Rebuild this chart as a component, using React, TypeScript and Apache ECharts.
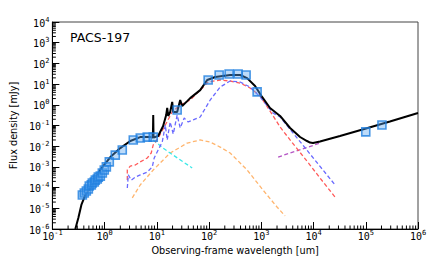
import React, { useEffect, useRef } from "react";
import * as echarts from "echarts";

// Observing-frame wavelength [um] vs flux density [mJy]
const totalSed: [number, number][] = [
  [0.275, 1e-6], [0.314, 3.4e-6], [0.359, 1.45e-5], [0.428, 4.4e-5], [0.582, 1.35e-4],
  [0.828, 7.1e-4], [1.29, 3.0e-3], [2.0, 8.1e-3], [3.1, 0.0178], [4.8, 0.0275],
  [7.5, 0.0275], [8.4, 0.026], [8.53, 0.32], [8.65, 0.026], [10.6, 0.031],
  [13.2, 0.095], [15.1, 0.32], [15.8, 0.71], [16.5, 0.29], [18.0, 0.45],
  [19.7, 1.38], [20.6, 0.45], [24.5, 0.45], [28, 1.7], [30.6, 0.87],
  [38.1, 1.5], [43.5, 2.1], [67.6, 5.1], [92, 15.8], [131, 21.9],
  [253, 27.5], [394, 27.5], [535, 19.5], [760, 8.1], [1035, 2.4],
  [1470, 0.70], [2290, 0.29], [3560, 0.0757], [5520, 0.0278], [7500, 0.0178],
  [8570, 0.015], [9770, 0.0143], [13300, 0.017], [32100, 0.031], [1.01e5, 0.0716],
  [2.9e5, 0.156], [1e6, 0.40],
];

const dustRed: [number, number][] = [
  [2.72, 2.3e-4], [2.72, 7.1e-4], [3.1, 1.1e-3], [3.86, 1.23e-3], [4.82, 1.74e-3],
  [6.55, 2.7e-3], [7.8, 4.7e-3], [8.53, 0.0115], [10.6, 0.025], [14.5, 0.105],
  [19.7, 0.45], [28, 0.98], [43.5, 1.7], [67.6, 5.1], [96, 12.6],
  [163, 15.8], [253, 14.1], [394, 11.2], [611, 6.5], [948, 2.7],
  [1470, 0.50], [2290, 0.085], [3560, 0.020], [5520, 5.0e-3], [8570, 1.23e-3],
  [13300, 2.9e-4], [25800, 3.5e-5],
];

const dustBlue: [number, number][] = [
  [2.72, 9.5e-5], [2.84, 4.1e-4], [3.24, 2.3e-4], [3.86, 3.2e-4], [4.82, 4.1e-4],
  [6.55, 5.6e-4], [8.17, 1.0e-3], [8.91, 2.7e-3], [10.6, 6.6e-3], [12.7, 0.0158],
  [14.5, 0.105], [15.8, 0.02], [18.0, 0.148], [20.6, 0.039], [24.5, 0.32],
  [28, 0.076], [33.4, 0.23], [39.8, 0.148], [49.7, 0.186], [67.6, 0.257],
  [105, 1.7], [163, 7.2], [253, 14.1], [394, 12.6], [611, 7.2],
  [948, 2.4], [1680, 0.40], [2290, 0.257], [3560, 0.065], [8570, 4.2e-3],
  [25800, 1.35e-4],
];

const warmOrange: [number, number][] = [
  [3.39, 3.2e-5], [4.82, 1.35e-4], [8.53, 7.1e-4], [18.0, 4.7e-3], [38.1, 0.0141],
  [67.6, 0.020], [105, 0.0158], [163, 9.1e-3], [253, 4.7e-3], [535, 7.1e-4],
  [1080, 7.6e-5], [2000, 1.15e-5], [2850, 4.3e-6],
];

const agnCyan: [number, number][] = [
  [8.53, 0.020], [13.2, 8.1e-3], [20.6, 3.7e-3], [32, 1.74e-3], [47.5, 8.9e-4],
];

const radioPurple: [number, number][] = [
  [2100, 3.0e-3], [13300, 0.0141],
];

const photometry: [number, number][] = [
  [0.375, 4.4e-5], [0.409, 5.5e-5], [0.447, 6.9e-5], [0.488, 8.5e-5], [0.509, 1.2e-4],
  [0.557, 1.35e-4], [0.582, 1.66e-4], [0.635, 1.86e-4], [0.664, 2.3e-4], [0.724, 2.6e-4],
  [0.758, 3.2e-4], [0.828, 3.6e-4], [0.904, 5.1e-4], [0.986, 7.1e-4], [1.08, 1.0e-3],
  [1.23, 1.74e-3], [1.6, 3.7e-3], [2.18, 6.6e-3], [3.54, 0.02], [4.82, 0.025],
  [6.55, 0.0275], [8.53, 0.0275], [24.5, 0.56], [96, 15.8], [156, 27.5],
  [242, 31], [360, 31], [512, 27.5], [832, 4.2], [1.0e5, 0.049], [2.04e5, 0.105],
];

const xDecades = [-1, 0, 1, 2, 3, 4, 5];
const yDecades = [-6, -5, -4, -3, -2, -1, 0, 1, 2, 3];
const minorMultipliers = [2, 3, 4, 5, 6, 7, 8, 9];

const xMinor: number[] = [];
xDecades.forEach((d) => minorMultipliers.forEach((k) => xMinor.push(k * Math.pow(10, d))));
const yMinor: number[] = [];
yDecades.forEach((d) => minorMultipliers.forEach((k) => yMinor.push(k * Math.pow(10, d))));

const tickLabel = (v: number) => {
  const e = Math.round(Math.log10(v));
  return `{b|10}{s|${String(e)}}`;
};

const labelRich = {
  b: { fontSize: 10, fontFamily: "DejaVu Sans Mono", color: "#000", lineHeight: 12, verticalAlign: "bottom" },
  s: { fontSize: 7, fontFamily: "DejaVu Sans Mono", color: "#000", lineHeight: 8, verticalAlign: "top" },
};

const dash = (color: string) => ({
  type: "line",
  showSymbol: false,
  symbol: "none",
  silent: true,
  lineStyle: { color, width: 1.3, type: [4, 2.5] },
  z: 2,
});

export default function App() {
  const ref = useRef<HTMLDivElement>(null);
  useEffect(() => {
    if (!ref.current) return;
    const chart = echarts.init(ref.current, undefined, { renderer: "svg" });
    chart.setOption({
      animation: false,
      backgroundColor: "#fff",
      title: {
        text: "PACS-197",
        left: 70,
        top: 31,
        padding: 0,
        textStyle: { fontSize: 12.5, fontWeight: "normal", fontFamily: "DejaVu Sans", color: "#000" },
      },
      grid: { left: 52, right: 18, top: 22, bottom: 44, show: true, borderColor: "#444", borderWidth: 1 },
      xAxis: {
        type: "log",
        logBase: 10,
        min: 0.1,
        max: 1e6,
        interval: 1,
        name: "Observing-frame wavelength [um]",
        nameLocation: "middle",
        nameGap: 12,
        nameTextStyle: { fontSize: 9.7, fontFamily: "DejaVu Sans", color: "#000" },
        axisLine: { show: true, lineStyle: { color: "#000", width: 1 } },
        axisTick: { show: true, inside: true, length: 7, lineStyle: { color: "#000", width: 1 } },
        axisLabel: { formatter: tickLabel, rich: labelRich, margin: 0 },
        splitLine: { show: false },
      },
      yAxis: {
        type: "log",
        logBase: 10,
        min: 1e-6,
        max: 1e4,
        interval: 1,
        name: "Flux density [mJy]",
        nameLocation: "middle",
        nameGap: 27,
        nameTextStyle: { fontSize: 9.7, fontFamily: "DejaVu Sans", color: "#000" },
        axisLine: { show: true, lineStyle: { color: "#000", width: 1 } },
        axisTick: { show: true, inside: true, length: 7, lineStyle: { color: "#000", width: 1 } },
        axisLabel: { formatter: tickLabel, rich: labelRich, margin: 3 },
        splitLine: { show: false },
      },
      series: [
        { ...dash("#ffb56e"), data: warmOrange },
        { ...dash("#3ce8e8"), data: agnCyan },
        { ...dash("#b455c4"), data: radioPurple },
        { ...dash("#ff5a5a"), data: dustRed },
        { ...dash("#6a6aff"), data: dustBlue },
        {
          type: "line",
          symbol: "none",
          showSymbol: false,
          silent: true,
          data: totalSed,
          lineStyle: { color: "#000", width: 2 },
          z: 3,
        },
        {
          type: "scatter",
          symbol: "rect",
          symbolSize: 8,
          data: photometry,
          itemStyle: { color: "rgba(90,165,240,0.5)", borderColor: "#1f80e0", borderWidth: 1.6 },
          z: 4,
        },
        {
          type: "custom",
          coordinateSystem: "cartesian2d",
          silent: true,
          data: xMinor.map((v) => [v, 1]),
          renderItem: (params: any, api: any) => {
            const p = api.coord([api.value(0), api.value(1)]);
            const cs = params.coordSys;
            const yb = cs.y + cs.height;
            return {
              type: "line",
              shape: { x1: p[0], y1: yb, x2: p[0], y2: yb - 3.5 },
              style: { stroke: "#000", lineWidth: 1 },
            };
          },
          z: 5,
        },
        {
          type: "custom",
          coordinateSystem: "cartesian2d",
          silent: true,
          data: yMinor.map((v) => [1, v]),
          renderItem: (params: any, api: any) => {
            const p = api.coord([api.value(0), api.value(1)]);
            const cs = params.coordSys;
            const xl = cs.x;
            return {
              type: "line",
              shape: { x1: xl, y1: p[1], x2: xl + 3.5, y2: p[1] },
              style: { stroke: "#000", lineWidth: 1 },
            };
          },
          z: 5,
        },
      ],
    });
    return () => chart.dispose();
  }, []);
  return <div ref={ref} style={{ position: "absolute", left: 0, top: 0, width: 436, height: 273 }} />;
}
